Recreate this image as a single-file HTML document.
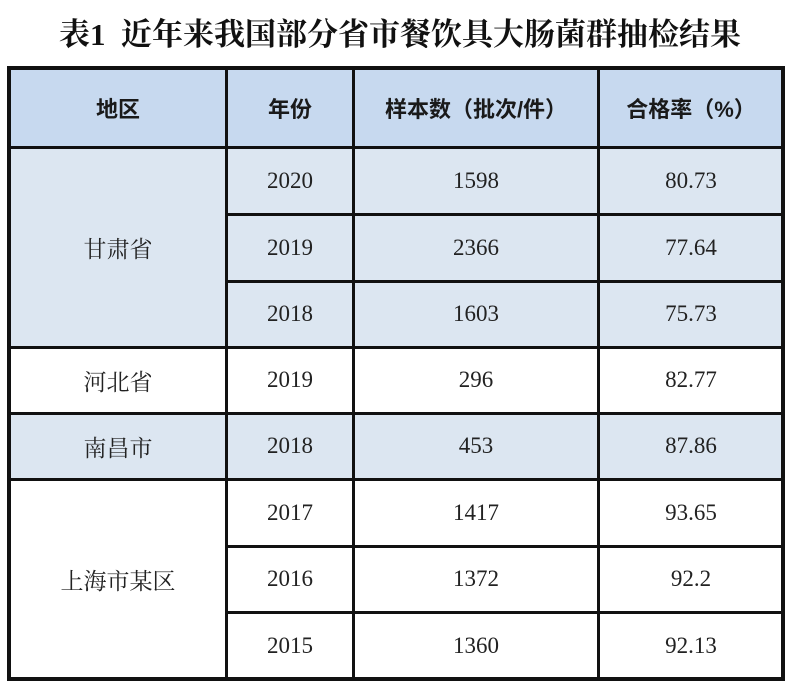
<!DOCTYPE html>
<html><head><meta charset="utf-8"><style>
body{margin:0;width:800px;height:698px;background:#fff;position:relative;overflow:hidden;font-family:"Liberation Serif","Noto Serif CJK SC",serif;color:#222}
.t{position:absolute;left:0;width:800px;top:9px;text-align:center;font-size:31px;font-weight:bold;font-family:"Liberation Serif","Noto Serif CJK SC",serif;color:#111}
.b{position:absolute;}
.c{position:absolute;display:flex;align-items:center;justify-content:center;font-size:23px}
.h{font-family:"Liberation Sans","Noto Sans CJK SC",sans-serif;font-weight:bold;font-size:22px;color:#1a1a1a}
.l{background:#111;position:absolute}
</style></head><body>
<div class="t">表1&nbsp; 近年来我国部分省市餐饮具大肠菌群抽检结果</div>
<div class="b" style="left:9px;top:68px;width:774px;height:80px;background:#c7d9ef"></div>
<div class="b" style="left:9px;top:148px;width:774px;height:199px;background:#dce6f1"></div>
<div class="b" style="left:9px;top:413px;width:774px;height:66px;background:#dce6f1"></div>
<div class="c h" style="left:9px;top:68px;width:218px;height:80px">地区</div>
<div class="c h" style="left:227px;top:68px;width:126px;height:80px">年份</div>
<div class="c h" style="left:353px;top:68px;width:246px;height:80px">样本数（批次/件）</div>
<div class="c h" style="left:599px;top:68px;width:184px;height:80px">合格率（%）</div>
<div class="c" style="left:9px;top:148px;width:218px;height:199px">甘肃省</div>
<div class="c" style="left:9px;top:347px;width:218px;height:66px">河北省</div>
<div class="c" style="left:9px;top:413px;width:218px;height:66px">南昌市</div>
<div class="c" style="left:9px;top:479px;width:218px;height:200px">上海市某区</div>
<div class="c" style="left:227px;top:148px;width:126px;height:66px">2020</div>
<div class="c" style="left:227px;top:214px;width:126px;height:67px">2019</div>
<div class="c" style="left:227px;top:281px;width:126px;height:66px">2018</div>
<div class="c" style="left:227px;top:347px;width:126px;height:66px">2019</div>
<div class="c" style="left:227px;top:413px;width:126px;height:66px">2018</div>
<div class="c" style="left:227px;top:479px;width:126px;height:67px">2017</div>
<div class="c" style="left:227px;top:546px;width:126px;height:66px">2016</div>
<div class="c" style="left:227px;top:612px;width:126px;height:67px">2015</div>
<div class="c" style="left:353px;top:148px;width:246px;height:66px">1598</div>
<div class="c" style="left:353px;top:214px;width:246px;height:67px">2366</div>
<div class="c" style="left:353px;top:281px;width:246px;height:66px">1603</div>
<div class="c" style="left:353px;top:347px;width:246px;height:66px">296</div>
<div class="c" style="left:353px;top:413px;width:246px;height:66px">453</div>
<div class="c" style="left:353px;top:479px;width:246px;height:67px">1417</div>
<div class="c" style="left:353px;top:546px;width:246px;height:66px">1372</div>
<div class="c" style="left:353px;top:612px;width:246px;height:67px">1360</div>
<div class="c" style="left:599px;top:148px;width:184px;height:66px">80.73</div>
<div class="c" style="left:599px;top:214px;width:184px;height:67px">77.64</div>
<div class="c" style="left:599px;top:281px;width:184px;height:66px">75.73</div>
<div class="c" style="left:599px;top:347px;width:184px;height:66px">82.77</div>
<div class="c" style="left:599px;top:413px;width:184px;height:66px">87.86</div>
<div class="c" style="left:599px;top:479px;width:184px;height:67px">93.65</div>
<div class="c" style="left:599px;top:546px;width:184px;height:66px">92.2</div>
<div class="c" style="left:599px;top:612px;width:184px;height:67px">92.13</div>
<div class="l" style="left:7px;top:66px;width:778px;height:4px"></div>
<div class="l" style="left:7px;top:677px;width:778px;height:4px"></div>
<div class="l" style="left:7px;top:66px;width:4px;height:615px"></div>
<div class="l" style="left:781px;top:66px;width:4px;height:615px"></div>
<div class="l" style="left:225px;top:66px;width:3px;height:615px"></div>
<div class="l" style="left:352px;top:66px;width:3px;height:615px"></div>
<div class="l" style="left:597px;top:66px;width:3px;height:615px"></div>
<div class="l" style="left:7px;top:146px;width:778px;height:3px"></div>
<div class="l" style="left:225px;top:213px;width:560px;height:3px"></div>
<div class="l" style="left:225px;top:280px;width:560px;height:3px"></div>
<div class="l" style="left:7px;top:346px;width:778px;height:3px"></div>
<div class="l" style="left:7px;top:412px;width:778px;height:3px"></div>
<div class="l" style="left:7px;top:478px;width:778px;height:3px"></div>
<div class="l" style="left:225px;top:545px;width:560px;height:3px"></div>
<div class="l" style="left:225px;top:611px;width:560px;height:3px"></div>
</body></html>
